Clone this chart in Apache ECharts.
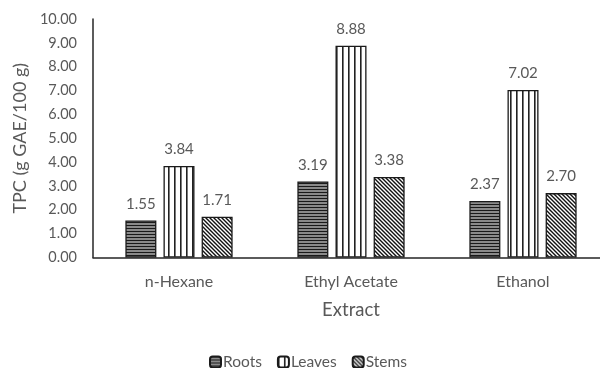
<!DOCTYPE html>
<html>
<head>
<meta charset="utf-8">
<script src="https://cdn.jsdelivr.net/npm/echarts@6/dist/echarts.min.js"></script>
<style>
  html, body { margin: 0; padding: 0; background: #fff; }
  #chart { width: 600px; height: 368px; }
</style>
</head>
<body>
<div id="chart"></div>
<script>
// Extracts on the x axis and total phenolic content per plant part
const categories = ['n-Hexane', 'Ethyl Acetate', 'Ethanol'];
const roots = [1.55, 3.19, 2.37];
const leaves = [3.84, 8.88, 7.02];
const stems = [1.71, 3.38, 2.70];
const yTicks = [0, 1, 2, 3, 4, 5, 6, 7, 8, 9, 10];

// Hatch fills drawn on small repeating canvases
function makePattern(w, h, draw) {
  const c = document.createElement('canvas');
  c.width = w; c.height = h;
  const ctx = c.getContext('2d');
  draw(ctx, w, h);
  return { image: c, repeat: 'repeat' };
}
const horizontalHatch = makePattern(6, 3, (ctx, w, h) => {
  ctx.fillStyle = '#8a8a8a'; ctx.fillRect(0, 0, w, h);
  ctx.fillStyle = '#1a1a1a'; ctx.fillRect(0, 0, w, 1);
});
const verticalHatch = makePattern(6, 6, (ctx, w, h) => {
  ctx.fillStyle = '#ffffff'; ctx.fillRect(0, 0, w, h);
  ctx.fillStyle = '#222222'; ctx.fillRect(0, 0, 1.6, h);
});
const diagonalHatch = makePattern(4, 4, (ctx, w, h) => {
  ctx.fillStyle = '#ffffff'; ctx.fillRect(0, 0, w, h);
  ctx.strokeStyle = '#111111'; ctx.lineWidth = 1.4;
  ctx.beginPath();
  ctx.moveTo(-1, -1); ctx.lineTo(w + 1, h + 1);
  ctx.moveTo(-1, h - 1); ctx.lineTo(1, h + 1);
  ctx.moveTo(w - 1, -1); ctx.lineTo(w + 1, 1);
  ctx.stroke();
});

const font = 'Lato, "Liberation Sans", sans-serif';
const grey = '#595959';

function barSeries(name, data, fill) {
  return {
    name: name,
    type: 'bar',
    data: data,
    barWidth: 31,
    barGap: '23%',
    itemStyle: { color: fill, borderColor: '#1a1a1a', borderWidth: 1.3 },
    label: {
      show: true,
      position: 'top',
      distance: 9,
      color: grey,
      fontFamily: font,
      fontSize: 15,
      formatter: p => p.value.toFixed(2)
    }
  };
}

const chart = echarts.init(document.getElementById('chart'), null, { renderer: 'canvas' });
chart.setOption({
  animation: false,
  backgroundColor: '#ffffff',
  // the category axis runs a little past the right edge of the canvas
  grid: {
    left: 93, width: 516, top: 19, bottom: 110.5,
    containLabel: false, outerBoundsMode: 'none'
  },
  legend: {
    data: ['Roots', 'Leaves', 'Stems'],
    left: 209,
    top: 354,
    padding: 0,
    itemWidth: 11,
    itemHeight: 11,
    itemGap: 15,
    textStyle: { color: grey, fontFamily: font, fontSize: 15.5, padding: [0, 0, 0, -3] }
  },
  xAxis: {
    type: 'category',
    data: categories,
    name: 'Extract',
    nameLocation: 'middle',
    nameGap: 43,
    nameTextStyle: { color: grey, fontFamily: font, fontSize: 18.5 },
    axisLine: { lineStyle: { color: '#262626', width: 1.5 } },
    axisTick: { show: false },
    axisLabel: { color: grey, fontFamily: font, fontSize: 16, margin: 16 }
  },
  yAxis: {
    type: 'value',
    min: yTicks[0],
    max: yTicks[yTicks.length - 1],
    interval: 1,
    name: 'TPC (g GAE/100 g)',
    nameLocation: 'middle',
    nameGap: 61,
    nameTextStyle: { color: grey, fontFamily: font, fontSize: 18 },
    axisLine: { show: true, lineStyle: { color: '#262626', width: 1.5 } },
    axisTick: { show: false },
    splitLine: { show: false },
    axisLabel: {
      color: grey, fontFamily: font, fontSize: 14.5, margin: 16,
      formatter: v => v.toFixed(2)
    }
  },
  series: [
    barSeries('Roots', roots, horizontalHatch),
    barSeries('Leaves', leaves, verticalHatch),
    barSeries('Stems', stems, diagonalHatch)
  ]
});
</script>
</body>
</html>
